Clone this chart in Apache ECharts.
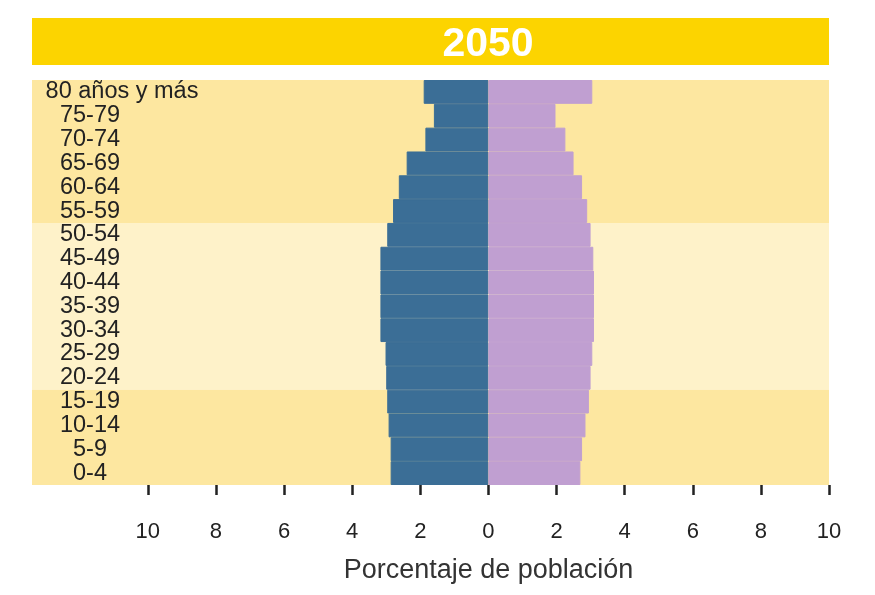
<!DOCTYPE html>
<html>
<head>
<meta charset="utf-8">
<script src="https://cdn.jsdelivr.net/npm/echarts@6/dist/echarts.min.js"></script>
<style>html,body{margin:0;padding:0;background:#fff}#c{width:875px;height:595px}</style>
</head>
<body>
<div id="c"></div>
<script>
var titleText = '2050';
var categories = ['80 años y más','75-79','70-74','65-69','60-64','55-59','50-54','45-49','40-44','35-39','30-34','25-29','20-24','15-19','10-14','5-9','0-4'];
var hombres = [1.9, 1.6, 1.85, 2.4, 2.63, 2.8, 2.97, 3.17, 3.17, 3.17, 3.17, 3.02, 3.0, 2.97, 2.93, 2.87, 2.87];
var mujeres = [3.05, 1.97, 2.26, 2.5, 2.75, 2.9, 3.0, 3.08, 3.1, 3.1, 3.1, 3.05, 3.0, 2.95, 2.85, 2.75, 2.7];
var tickValues = [-10, -8, -6, -4, -2, 0, 2, 4, 6, 8, 10];
var axisName = 'Porcentaje de población';

var titleFontSize = 41;
var cv = document.createElement('canvas').getContext('2d');
cv.font = 'bold ' + titleFontSize + 'px "Liberation Sans"';
var tw = cv.measureText(titleText).width;
var padL = Math.max(0, 488 - 32 - tw / 2);
var padR = Math.max(0, 829 - 488 - tw / 2);

var chart = echarts.init(document.getElementById('c'), null, {renderer: 'canvas'});
var bandDark = '#fde7a0';
var bandLight = '#fef2c9';
chart.setOption({
  animation: false,
  backgroundColor: '#ffffff',
  title: {
    text: titleText,
    left: 32, top: 18,
    padding: [6, padR, 0, padL],
    backgroundColor: '#fcd400',
    textStyle: {
      color: '#ffffff', fontSize: titleFontSize, fontWeight: 'bold', lineHeight: 41,
      fontFamily: 'Liberation Sans'
    }
  },
  grid: {left: 32, right: 46, top: 80, bottom: 110, containLabel: false, outerBoundsMode: 'none'},
  xAxis: {
    type: 'value', min: -13.4, max: 10,
    axisLine: {show: false},
    splitLine: {show: false},
    axisTick: {show: true, customValues: tickValues, length: 10, lineStyle: {color: '#222', width: 2.5}},
    axisLabel: {customValues: tickValues, margin: 36, color: '#222', fontSize: 22,
      fontFamily: 'Liberation Sans', formatter: function (v) { return Math.abs(v); }},
    name: axisName, nameLocation: 'middle', nameGap: 72,
    nameTextStyle: {color: '#333', fontSize: 27, fontFamily: 'Liberation Sans', padding: [0, 0, 0, 116]}
  },
  yAxis: {
    type: 'category', data: categories, inverse: true, z: 10,
    axisLine: {show: false}, axisTick: {show: false},
    axisLabel: {
      inside: true, interval: 0, margin: 58, align: 'center', color: '#222', fontSize: 23.5,
      fontFamily: 'Liberation Sans',
      formatter: function (v, i) { return i === 0 ? '{f|' + v + '}' : v; },
      rich: {f: {fontSize: 23.5, color: '#222', fontFamily: 'Liberation Sans', padding: [0, 0, 0, 64]}}
    }
  },
  series: [
    {
      name: 'Hombres', type: 'bar', data: hombres.map(function (v) { return -v; }),
      barCategoryGap: 0, barGap: '-100%',
      itemStyle: {color: '#3b6e96', borderColor: '#3b6e96', borderWidth: 1}, z: 3,
      markArea: {
        silent: true,
        itemStyle: {color: bandDark},
        data: [
          [{yAxis: categories[0]}, {yAxis: categories[5]}],
          [{yAxis: categories[6], itemStyle: {color: bandLight}}, {yAxis: categories[12]}],
          [{yAxis: categories[13]}, {yAxis: categories[16]}]
        ]
      }
    },
    {
      name: 'Mujeres', type: 'bar', data: mujeres,
      barCategoryGap: 0, barGap: '-100%',
      itemStyle: {color: '#c09fd1', borderColor: '#c09fd1', borderWidth: 1}, z: 3
    }
  ]
});
</script>
</body>
</html>
